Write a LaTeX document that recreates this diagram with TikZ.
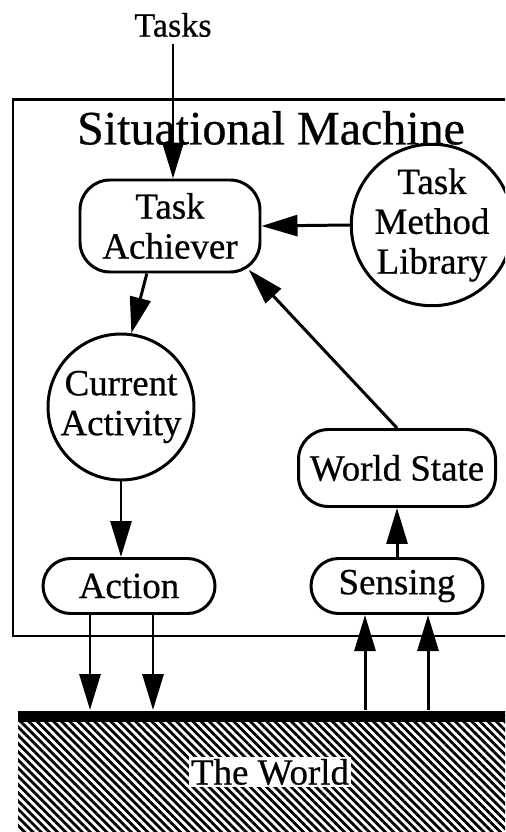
\documentclass[tikz,border=0pt]{standalone}
\usepackage{fontspec}
\setmainfont{Liberation Serif}[FakeBold=0.6]
\usetikzlibrary{arrows.meta,patterns.meta}

\newcommand{\nodefont}{\fontsize{21}{22.7}\selectfont}

\tikzset{
	>={Triangle[length=0.72cm,width=0.42cm]},
	box/.style={draw,rounded corners=0.6cm,align=center,inner sep=0pt,font=\nodefont},
	pill/.style={box,rounded corners=0.55cm,minimum width=3.44cm,minimum height=1.1cm},
	blob/.style={draw,circle,align=center,inner sep=0pt,font=\nodefont},
	hatch/.style={pattern={Lines[angle=-45,distance=3.3pt,line width=1.6pt]}}
}

\begin{document}
\begin{tikzpicture}[line width=1.7pt]
		
		\useasboundingbox (0,0) rectangle (10.1,-16.64);
		\clip (0,0) rectangle (10.1,-16.64);
		
		% the machine
		\draw (0.26,-2.0) rectangle (10.5,-12.72);
		\node (title) at (5.42,-2.56) {\fontsize{27.3}{30}\selectfont Situational Machine};
		\node (tasks) at (3.46,-0.5) {\fontsize{19.4}{21}\selectfont Tasks};
		
		\node[box,minimum width=3.6cm,minimum height=1.84cm] (ach) at (3.4,-4.52) {Task\\Achiever};
		\node[blob,minimum size=3.08cm] (lib) at (8.64,-4.5) {Task\\Method\\Library};
		\node[blob,minimum size=2.92cm] (cur) at (2.42,-8.14) {Current\\Activity};
		\node[box,minimum width=3.94cm,minimum height=1.54cm] (ws) at (7.94,-9.36) {World State};
		\node[pill] (act) at (2.58,-11.72) {Action};
		\node[pill] (sen) at (7.94,-11.72) {Sensing};
		
		% the world
		\fill[hatch] (0.36,-14.3) rectangle (10.5,-17);
		\draw[line width=0.22cm] (0.36,-14.32) -- (10.5,-14.32);
		\node[fill=white,inner sep=1pt,font=\nodefont] (world) at (5.4,-15.44) {The World};
		\coordinate (wtop) at (0.36,-14.2);
		
		\draw[->] (tasks.south) -- (tasks.south |- ach.north);
		\draw[->] (lib.west) -- (ach.east);
		\draw[->] (ach.244) -- (cur.82);
		\draw[->,shorten >=-0.1cm] (ws.north) -- (ach.-30);
		\draw[->] (cur.south) -- (cur.south |- act.north);
		\draw[->] (sen.north) -- (ws.south);
		
		\foreach \x in {1.8,3.06}{
			\coordinate (p) at (\x,0);
			\draw[->] (act.south -| p) -- (wtop -| p);
		}
		\foreach \x in {7.3,8.56}{
			\coordinate (p) at (\x,0);
			\draw[->] (wtop -| p) -- (sen.south -| p);
		}
	\end{tikzpicture}
\end{document}
